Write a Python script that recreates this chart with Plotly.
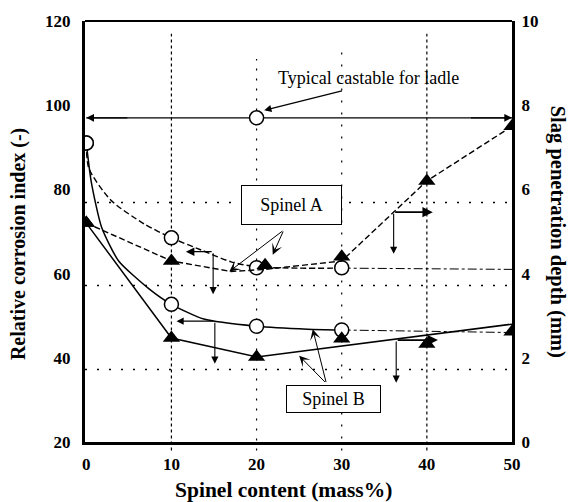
import plotly.graph_objects as go

# ---- measured points -------------------------------------------------------
# relative corrosion index (left axis), open circles
spinel_circ = [0, 10, 20, 30]
corrosion_A = [91, 68.5, 61.4, 61.4]
corrosion_B = [91, 52.7, 47.5, 46.6]

# slag penetration depth in mm (right axis), filled triangles
spinel_tri_A = [0, 10, 21, 30, 40, 50]
penetration_A = [5.2, 4.3, 4.2, 4.4, 6.2, 7.5]
spinel_tri_B = [0, 10, 20, 30, 40, 50]
penetration_B = [5.2, 2.47, 2.02, 2.45, 2.33, 2.62]

# reference: typical castable for ladle
ladle_x = [20]
ladle_corrosion = [97]

# ---- hand-drawn trend lines ------------------------------------------------
trend_corr_A_x = [0, 0.3, 2.9, 6.8, 10, 13.5, 17, 20, 25, 30]
trend_corr_A_y = [91, 85, 77.4, 71.8, 68.5, 65.6, 62.8, 61.6, 61.3, 61.3]
trend_corr_B_x = [0, 0.6, 1.8, 3.8, 7.3, 10, 13.8, 20, 26, 30]
trend_corr_B_y = [91, 81.6, 71.0, 63.0, 56.5, 52.7, 49.2, 47.5, 46.8, 46.6]
extend_x = [30, 50]
extend_A_y = [61.3, 61.0]
extend_B_y = [46.6, 46.0]
trend_pen_A_x = [0, 10, 17, 21, 30, 40, 50]
trend_pen_A_y = [5.2, 4.3, 4.05, 4.1, 4.3, 6.2, 7.5]
trend_pen_B_x = [0, 10, 20, 50]
trend_pen_B_y = [5.2, 2.47, 2.02, 2.8]

# tick labels
x_ticks = [0, 10, 20, 30, 40, 50]
left_ticks = [20, 40, 60, 80, 100, 120]
right_ticks = [0, 2, 4, 6, 8, 10]

SERIF = "Liberation Serif"
DASH = "6px,3px"

fig = go.Figure()

# trend lines
fig.add_trace(go.Scatter(x=trend_corr_A_x, y=trend_corr_A_y, mode="lines",
                         line=dict(color="black", width=1.4, dash=DASH,
                                   shape="spline", smoothing=0.7)))
fig.add_trace(go.Scatter(x=trend_corr_B_x, y=trend_corr_B_y, mode="lines",
                         line=dict(color="black", width=1.5,
                                   shape="spline", smoothing=0.6)))
fig.add_trace(go.Scatter(x=extend_x, y=extend_A_y, mode="lines",
                         line=dict(color="black", width=1, dash="dashdot")))
fig.add_trace(go.Scatter(x=extend_x, y=extend_B_y, mode="lines",
                         line=dict(color="black", width=1, dash="dashdot")))
fig.add_trace(go.Scatter(x=trend_pen_A_x, y=trend_pen_A_y, mode="lines", yaxis="y2",
                         line=dict(color="black", width=1.4, dash=DASH)))
fig.add_trace(go.Scatter(x=trend_pen_B_x, y=trend_pen_B_y, mode="lines", yaxis="y2",
                         line=dict(color="black", width=1.5)))

# ladle level line across the whole range
fig.add_trace(go.Scatter(x=[0, 50], y=[ladle_corrosion[0], ladle_corrosion[0]],
                         mode="lines", line=dict(color="black", width=1.1)))

# markers
circle = dict(symbol="circle", size=14, color="white",
              line=dict(color="black", width=1.5))
triangle = dict(symbol="triangle-up", size=15, color="black",
                line=dict(color="black", width=0))
fig.add_trace(go.Scatter(x=spinel_circ, y=corrosion_A, mode="markers", marker=circle))
fig.add_trace(go.Scatter(x=spinel_circ, y=corrosion_B, mode="markers", marker=circle))
fig.add_trace(go.Scatter(x=ladle_x, y=ladle_corrosion, mode="markers", marker=circle))
fig.add_trace(go.Scatter(x=spinel_tri_A, y=penetration_A, mode="markers",
                         yaxis="y2", marker=triangle))
fig.add_trace(go.Scatter(x=spinel_tri_B, y=penetration_B, mode="markers",
                         yaxis="y2", marker=triangle))

# guide lines (dotted)
shapes = []
for xv, y0, dash in [(10, 0.97, "dot"), (20, 0.91, "2px,8px"),
                     (30, 0.93, "2px,10px"), (40, 0.97, "dot")]:
    shapes.append(dict(type="line", xref="x", yref="paper", x0=xv, x1=xv,
                       y0=-0.02, y1=y0, layer="below",
                       line=dict(color="black", width=1.2, dash=dash)))
for yv in [76.9, 57.2, 37.2]:
    shapes.append(dict(type="line", xref="paper", yref="y", x0=0.0, x1=1.0,
                       y0=yv, y1=yv, layer="below",
                       line=dict(color="black", width=1.5, dash="2px,10px")))
# top frame line
shapes.append(dict(type="line", xref="paper", yref="paper", x0=0, x1=1, y0=1, y1=1,
                   line=dict(color="black", width=2)))


def arrow(x, y, ax, ay, head=2, size=1.0, width=1.2):
    return dict(x=x, y=y, ax=ax, ay=ay, xref="x", yref="y", axref="x", ayref="y",
                text="", showarrow=True, arrowhead=head, arrowsize=size,
                arrowwidth=width, arrowcolor="black")


def title(x, y, text, angle=0, size=20):
    return dict(x=x, y=y, xref="paper", yref="paper", xanchor="center",
                yanchor="middle", showarrow=False, text=f"<b>{text}</b>",
                textangle=angle, font=dict(family=SERIF, size=size, color="black"))


annotations = [
    # ladle castable level: heads at both axes
    arrow(0, 97, 5, 97, head=2, size=1.4, width=1.1),
    arrow(50, 97, 45, 97, head=2, size=1.4, width=1.1),
    dict(x=33.1, y=106.4, xref="x", yref="y", text="Typical castable for ladle",
         showarrow=False, font=dict(family=SERIF, size=18, color="black")),
    arrow(20.9, 98.8, 30.2, 103.5, head=2, size=1.2, width=1.2),
    # axis indicators
    arrow(11.7, 65.2, 14.9, 65.2, head=2, size=1.3, width=1.3),
    arrow(14.9, 55.1, 14.9, 65.2, head=2, size=1.3, width=1.1),
    arrow(10.6, 48.7, 15.1, 48.7, head=2, size=1.3, width=1.1),
    arrow(15.1, 38.6, 15.1, 48.7, head=2, size=1.3, width=1.1),
    arrow(40.7, 74.6, 36.1, 74.6, head=2, size=1.3, width=1.6),
    arrow(36.1, 64.7, 36.1, 74.6, head=2, size=1.3, width=1.1),
    arrow(41.3, 44.2, 36.4, 44.2, head=2, size=1.3, width=1.6),
    arrow(36.4, 34.1, 36.4, 44.2, head=2, size=1.3, width=1.1),
    # label pointers
    arrow(16.8, 60.5, 23.2, 70.35, head=3, size=1.8, width=1),
    arrow(21.9, 64.5, 23.2, 70.35, head=3, size=1.8, width=1),
    arrow(26.6, 46.8, 28.2, 33.9, head=3, size=1.8, width=1),
    arrow(25.0, 40.5, 28.2, 33.9, head=3, size=1.8, width=1),
    # boxed labels
    dict(x=24.1, y=76.2, xref="x", yref="y", text="Spinel A", showarrow=False,
         font=dict(family=SERIF, size=18, color="black"), bgcolor="white",
         bordercolor="black", borderwidth=1, borderpad=0, width=99, height=38),
    dict(x=29.0, y=30.1, xref="x", yref="y", text="Spinel B", showarrow=False,
         font=dict(family=SERIF, size=18, color="black"), bgcolor="white",
         bordercolor="black", borderwidth=1, borderpad=0, width=93, height=26),
    # axis titles
    title(-0.157, 0.47, "Relative corrosion index (-)", angle=-90, size=20),
    title(1.106, 0.499, "Slag penetration depth (mm)", angle=90, size=20.5),
    title(0.464, -0.113, "Spinel content (mass%)", size=21.5),
]

tickfont = dict(family=SERIF, size=17, color="black", weight="bold")

fig.update_layout(
    width=571, height=502,
    margin=dict(l=85, r=59, t=17, b=60),
    paper_bgcolor="white", plot_bgcolor="white",
    showlegend=False,
    shapes=shapes, annotations=annotations,
    xaxis=dict(range=[-0.15, 50], tickvals=x_ticks, ticks="", showgrid=False,
               zeroline=False, showline=True, linecolor="black", linewidth=3,
               tickfont=tickfont, ticklabelstandoff=5),
    yaxis=dict(range=[20, 120], tickvals=left_ticks, ticks="", showgrid=False,
               zeroline=False, showline=True, linecolor="black", linewidth=3,
               tickfont=tickfont, ticklabelstandoff=8),
    yaxis2=dict(range=[0, 10], tickvals=right_ticks, ticks="", showgrid=False,
                zeroline=False, showline=True, linecolor="black", linewidth=3,
                overlaying="y", side="right", tickfont=tickfont,
                ticklabelstandoff=3),
)

fig.write_html("out.html")
